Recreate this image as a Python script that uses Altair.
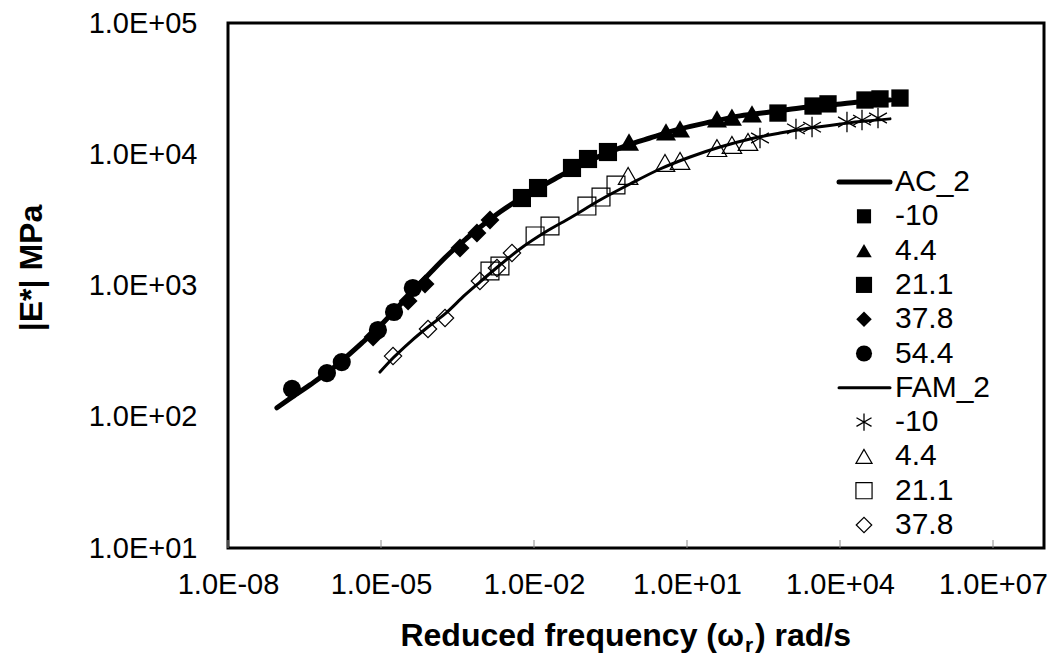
import json
import pandas as pd
import altair as alt

# ---------------- data ----------------
# AC_2 measured |E*| (MPa) vs reduced frequency (rad/s)
ac_m10_x = [608, 2960, 5820, 30900, 60800, 150000]
ac_m10_y = [20600, 23300, 24200, 25900, 26400, 26800]
ac_44_x = [0.73, 3.87, 7.3, 38.7, 76, 188]
ac_44_y = [12400, 14800, 15600, 18600, 19200, 20300]
ac_211_x = [5.8e-3, 1.2e-2, 0.0556, 0.1146, 0.282]
ac_211_y = [4640, 5530, 7860, 9200, 10400]
ac_378_x = [7.0e-6, 3.4e-5, 7.3e-5, 3.54e-4, 7.6e-4, 1.37e-3]
ac_378_y = [405, 762, 1027, 1930, 2512, 3155]
ac_544_x = [1.8e-7, 8.7e-7, 1.7e-6, 8.7e-6, 1.8e-5, 4.2e-5]
ac_544_y = [163, 215, 261, 458, 628, 957]

# FAM_2 measured
fam_m10_x = [270, 1370, 2830, 13700, 27000, 55600]
fam_m10_y = [13300, 15600, 16100, 17600, 18200, 18900]
fam_44_x = [0.70, 3.7, 7.3, 38.7, 76, 157]
fam_44_y = [6830, 8580, 8890, 11150, 11760, 12400]
fam_211_x = [1.37e-3, 2.15e-3, 0.0105, 0.0206, 0.109, 0.206, 0.405]
fam_211_y = [1290, 1408, 2385, 2840, 4030, 4720, 5830]
fam_378_x = [1.72e-5, 8.35e-5, 1.8e-4, 8.7e-4, 1.88e-3, 3.7e-3]
fam_378_y = [290, 466, 565, 1082, 1360, 1770]

# master curves
ac_line_x = [9.1e-8, 1.8e-7, 4.06e-7, 9.1e-7, 1.97e-6, 4.24e-6, 9.55e-6, 2.15e-5,
             4.64e-5, 1e-4, 2.25e-4, 4.86e-4, 1.05e-3, 2.15e-3, 5.3e-3, 0.0131,
             0.0324, 0.0798, 0.197, 0.608, 1.88, 7.3, 28.2, 109, 424, 1640,
             6370, 24700, 95500]
ac_line_y = [117, 141, 175, 219, 280, 365, 491, 686, 940, 1290, 1770, 2300, 2940,
             3630, 4560, 5620, 6830, 8280, 9700, 11550, 13300, 15600, 17600,
             19600, 21000, 22500, 23700, 25000, 25900]
fam_line_x = [9.55e-6, 1.72e-5, 3.71e-5, 8.35e-5, 1.8e-4, 4.44e-4, 8.7e-4, 2.15e-3,
              5.3e-3, 0.018, 0.0508, 0.197, 0.762, 2.96, 11.5, 44.4, 172, 666,
              2580, 10000, 30900, 95500]
fam_line_y = [219, 280, 371, 483, 607, 847, 1063, 1433, 1897, 2600, 3270, 4480,
              5930, 7720, 9530, 11350, 13060, 14500, 15850, 17000, 17900, 18600]

x_tick_values = [1e-8, 1e-5, 1e-2, 1e1, 1e4, 1e7]
x_tick_labels = ["1.0E-08", "1.0E-05", "1.0E-02", "1.0E+01", "1.0E+04", "1.0E+07"]
y_tick_values = [1e1, 1e2, 1e3, 1e4, 1e5]
y_tick_labels = ["1.0E+01", "1.0E+02", "1.0E+03", "1.0E+04", "1.0E+05"]

legend_labels = ["AC_2", "-10", "4.4", "21.1", "37.8", "54.4",
                 "FAM_2", "-10", "4.4", "21.1", "37.8"]
legend_keys = ["ac_line", "ac_m10", "ac_44", "ac_211", "ac_378", "ac_544",
               "fam_line", "fam_m10", "fam_44", "fam_211", "fam_378"]

y_title = "|E*| MPa"
x_title_parts = ["Reduced frequency (\u03c9", "r", ") rad/s"]

# ---------------- build tables ----------------
series = {
    "ac_m10": (ac_m10_x, ac_m10_y), "ac_44": (ac_44_x, ac_44_y),
    "ac_211": (ac_211_x, ac_211_y), "ac_378": (ac_378_x, ac_378_y),
    "ac_544": (ac_544_x, ac_544_y), "fam_m10": (fam_m10_x, fam_m10_y),
    "fam_44": (fam_44_x, fam_44_y), "fam_211": (fam_211_x, fam_211_y),
    "fam_378": (fam_378_x, fam_378_y),
}
rows = []
for k, (xs, ys) in series.items():
    for a, b in zip(xs, ys):
        rows.append({"key": k, "x": a, "y": b})
pts = pd.DataFrame(rows)

lines = pd.concat([
    pd.DataFrame({"key": "ac_line", "x": ac_line_x, "y": ac_line_y}),
    pd.DataFrame({"key": "fam_line", "x": fam_line_x, "y": fam_line_y}),
])

leg = pd.DataFrame({"idx": list(range(len(legend_labels))),
                    "label": legend_labels, "key": legend_keys})

STAR = "M0,-1L0,1M-0.87,-0.5L0.87,0.5M-0.87,0.5L0.87,-0.5"
styles = {
    # key: (shape, filled, plot size, legend size, stroke width)
    "ac_m10": ("square", True, 300, 200, 1),
    "ac_44": ("triangle-up", True, 400, 240, 1),
    "ac_211": ("square", True, 330, 260, 1),
    "ac_378": ("diamond", True, 360, 240, 1),
    "ac_544": ("circle", True, 330, 260, 1),
    "fam_m10": (STAR, False, 420, 300, 1.3),
    "fam_44": ("triangle-up", False, 380, 260, 1.2),
    "fam_211": ("square", False, 320, 260, 1.2),
    "fam_378": ("diamond", False, 300, 240, 1.2),
}

FONT = "Liberation Sans"
W, H = 816, 525

xscale = alt.Scale(type="log", domain=[1e-8, 1e8], nice=False)
yscale = alt.Scale(type="log", domain=[10, 1e5], nice=False)

x_expr = "%s[round((log(datum.value)/LN10 + 8)/3)]" % json.dumps(x_tick_labels)
y_expr = "%s[round(log(datum.value)/LN10 - 1)]" % json.dumps(y_tick_labels)

X = alt.X("x:Q", scale=xscale,
          axis=alt.Axis(values=x_tick_values, labelExpr=x_expr, title=None,
                        ticks=False, tickSize=0, domain=False, grid=False,
                        labelFontSize=29, labelFont=FONT, labelColor="black",
                        labelPadding=22, labelFlush=False, labelOverlap=False))
Y = alt.Y("y:Q", scale=yscale,
          axis=alt.Axis(values=y_tick_values, labelExpr=y_expr, title=None,
                        ticks=False, tickSize=0, domain=False, grid=False,
                        labelFontSize=29, labelFont=FONT, labelColor="black",
                        labelPadding=31, labelFlush=False, labelOverlap=False))

layers = []

# inner x ticks
ticks = alt.Chart(pd.DataFrame({"x": x_tick_values})).mark_rule(
    color="#8c8c8c", strokeWidth=1).encode(
    x=alt.X("x:Q", scale=xscale), y=alt.value(H), y2=alt.value(H - 8))
layers.append(ticks)

# master curves
for k, sw in [("ac_line", 5), ("fam_line", 3)]:
    layers.append(
        alt.Chart(lines).transform_filter(alt.datum.key == k)
        .mark_line(color="black", strokeWidth=sw, interpolate="monotone",
                   strokeCap="round")
        .encode(x=X, y=Y, order=alt.Order("x:Q"))
    )

# measured points
for k, (shape, filled, size, _, sw) in styles.items():
    if filled:
        m = alt.Chart(pts).mark_point(shape=shape, filled=True, size=size,
                                      color="black", opacity=1)
    else:
        m = alt.Chart(pts).mark_point(shape=shape, filled=False, size=size,
                                      color="black", strokeWidth=sw, opacity=1)
    layers.append(m.transform_filter(alt.datum.key == k).encode(x=X, y=Y))

# ---------------- legend (inside plot) ----------------
LEG_Y0, LEG_DY = 159, 34.3
legbase = alt.Chart(leg).transform_calculate(py="%f + datum.idx * %f" % (LEG_Y0, LEG_DY))
PY = alt.Y("py:Q", scale=None)

layers.append(legbase.mark_text(align="left", baseline="middle", fontSize=30,
                                font=FONT, color="black")
              .encode(x=alt.value(667), y=PY, text="label:N"))
for k, sw in [("ac_line", 5), ("fam_line", 3)]:
    layers.append(legbase.transform_filter(alt.datum.key == k)
                  .mark_rule(color="black", strokeWidth=sw, strokeCap="round")
                  .encode(x=alt.value(611), x2=alt.value(662), y=PY))
for k, (shape, filled, _, lsize, sw) in styles.items():
    if filled:
        m = legbase.mark_point(shape=shape, filled=True, size=lsize,
                               color="black", opacity=1)
    else:
        m = legbase.mark_point(shape=shape, filled=False, size=lsize,
                               color="black", strokeWidth=sw, opacity=1)
    layers.append(m.transform_filter(alt.datum.key == k)
                  .encode(x=alt.value(636), y=PY))

# ---------------- axis titles ----------------
tdf = pd.DataFrame({"t": [0]})
layers.append(alt.Chart(tdf).mark_text(text=y_title, fontSize=32, fontWeight="bold",
                                       font=FONT, angle=270, align="center",
                                       baseline="middle", color="black")
              .encode(x=alt.value(-196), y=alt.value(245)))
layers.append(alt.Chart(tdf).mark_text(text=x_title_parts[0], fontSize=32,
                                       fontWeight="bold", font=FONT, align="right",
                                       baseline="alphabetic", color="black")
              .encode(x=alt.value(516), y=alt.value(623)))
layers.append(alt.Chart(tdf).mark_text(text=x_title_parts[1], fontSize=21,
                                       fontWeight="bold", font=FONT, align="left",
                                       baseline="alphabetic", color="black")
              .encode(x=alt.value(517), y=alt.value(629)))
layers.append(alt.Chart(tdf).mark_text(text=x_title_parts[2], fontSize=32,
                                       fontWeight="bold", font=FONT, align="left",
                                       baseline="alphabetic", color="black")
              .encode(x=alt.value(527), y=alt.value(623)))

chart = alt.layer(*layers).properties(
    width=W, height=H,
    autosize=alt.AutoSizeParams(type="none"),
    padding={"left": 220, "top": 15, "right": 3, "bottom": 110},
    background="white",
).configure_view(stroke="black", strokeWidth=3)

chart.save("out.html", embed_options={"renderer": "svg", "actions": False})
